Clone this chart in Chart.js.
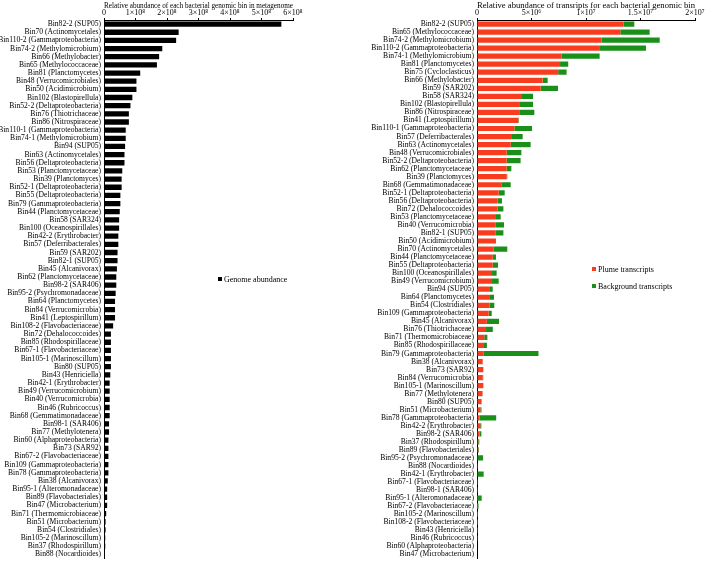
<!DOCTYPE html>
<html>
<head>
<meta charset="utf-8">
<script src="https://cdn.jsdelivr.net/npm/chart.js@4"></script>
<style>
  body { margin: 0; background: #fff; }
  #pagina { position: relative; width: 708px; height: 566px; font-family: "Liberation Serif", "Times New Roman", serif; color: #000; }
  .painel { position: absolute; top: 0; }
  .legenda { position: absolute; font-size: 8px; line-height: 10px; white-space: nowrap; }
  .legenda i { display: inline-block; width: 4px; height: 4px; margin-right: 2px; vertical-align: 1px; }
</style>
</head>
<body>
<div id="pagina">
  <div class="painel" style="left:0;width:350px;height:566px"><canvas id="graficoGenoma" width="350" height="566"></canvas></div>
  <div class="painel" style="left:354px;width:354px;height:566px"><canvas id="graficoTranscritos" width="354" height="566"></canvas></div>
  <div class="legenda" style="left:218px;top:275px"><i style="background:#000"></i>Genome abundance</div>
  <div class="legenda" style="left:592px;top:265px"><i style="background:#fa3c1e"></i>Plume transcripts</div>
  <div class="legenda" style="left:592px;top:282px"><i style="background:#1a8f1a"></i>Background transcripts</div>
</div>
<script>
// painel esquerdo: abundancia no metagenoma (unidade 1e8)
const binsGenoma = [
  "Bin82-2 (SUP05)", "Bin70 (Actinomycetales)", "Bin110-2 (Gammaproteobacteria)", "Bin74-2 (Methylomicrobium)",
  "Bin66 (Methylobacter)", "Bin65 (Methylococcaceae)", "Bin81 (Planctomycetes)", "Bin48 (Verrucomicrobiales)",
  "Bin50 (Acidimicrobium)", "Bin102 (Blastopirellula)", "Bin52-2 (Deltaproteobacteria)", "Bin76 (Thiotrichaceae)",
  "Bin86 (Nitrospiraceae)", "Bin110-1 (Gammaproteobacteria)", "Bin74-1 (Methylomicrobium)", "Bin94 (SUP05)",
  "Bin63 (Actinomycetales)", "Bin56 (Deltaproteobacteria)", "Bin53 (Planctomycetaceae)", "Bin39 (Planctomyces)",
  "Bin52-1 (Deltaproteobacteria)", "Bin55 (Deltaproteobacteria)", "Bin79 (Gammaproteobacteria)", "Bin44 (Planctomycetaceae)",
  "Bin58 (SAR324)", "Bin100 (Oceanospirillales)", "Bin42-2 (Erythrobacter)", "Bin57 (Deferribacterales)",
  "Bin59 (SAR202)", "Bin82-1 (SUP05)", "Bin45 (Alcanivorax)", "Bin62 (Planctomycetaceae)",
  "Bin98-2 (SAR406)", "Bin95-2 (Psychromonadaceae)", "Bin64 (Planctomycetes)", "Bin84 (Verrucomicrobia)",
  "Bin41 (Leptospirillum)", "Bin108-2 (Flavobacteriaceae)", "Bin72 (Dehalococcoides)", "Bin85 (Rhodospirillaceae)",
  "Bin67-1 (Flavobacteriaceae)", "Bin105-1 (Marinoscillum)", "Bin80 (SUP05)", "Bin43 (Henriciella)",
  "Bin42-1 (Erythrobacter)", "Bin49 (Verrucomicrobium)", "Bin40 (Verrucomicrobia)", "Bin46 (Rubricoccus)",
  "Bin68 (Gemmatimonadaceae)", "Bin98-1 (SAR406)", "Bin77 (Methylotenera)", "Bin60 (Alphaproteobacteria)",
  "Bin73 (SAR92)", "Bin67-2 (Flavobacteriaceae)", "Bin109 (Gammaproteobacteria)", "Bin78 (Gammaproteobacteria)",
  "Bin38 (Alcanivorax)", "Bin95-1 (Alteromonadaceae)", "Bin89 (Flavobacteriales)", "Bin47 (Microbacterium)",
  "Bin71 (Thermomicrobiaceae)", "Bin51 (Microbacterium)", "Bin54 (Clostridiales)", "Bin105-2 (Marinoscillum)",
  "Bin37 (Rhodospirillum)", "Bin88 (Nocardioides)"
];
const abundanciaGenoma = [
  5.63, 2.37, 2.29, 1.85, 1.75, 1.68, 1.15, 1.03, 1.03, 0.90,
  0.84, 0.79, 0.79, 0.69, 0.69, 0.67, 0.65, 0.65, 0.58, 0.56,
  0.56, 0.52, 0.52, 0.50, 0.48, 0.48, 0.455, 0.455, 0.43, 0.43,
  0.41, 0.39, 0.39, 0.37, 0.35, 0.35, 0.35, 0.29, 0.22, 0.22,
  0.22, 0.22, 0.22, 0.20, 0.18, 0.18, 0.18, 0.18, 0.18, 0.16,
  0.16, 0.14, 0.14, 0.14, 0.14, 0.14, 0.12, 0.10, 0.10, 0.10,
  0.07, 0.05, 0.05, 0.04, 0.04, 0.02
];
const ticksGenoma = ["0", "1×10⁸", "2×10⁸", "3×10⁸", "4×10⁸", "5×10⁸", "6×10⁸"];

// painel direito: transcritos (unidade 1e6)
const binsTranscritos = [
  "Bin82-2 (SUP05)", "Bin65 (Methylococcaceae)", "Bin74-2 (Methylomicrobium)", "Bin110-2 (Gammaproteobacteria)",
  "Bin74-1 (Methylomicrobium)", "Bin81 (Planctomycetes)", "Bin75 (Cycloclasticus)", "Bin66 (Methylobacter)",
  "Bin59 (SAR202)", "Bin58 (SAR324)", "Bin102 (Blastopirellula)", "Bin86 (Nitrospiraceae)",
  "Bin41 (Leptospirillum)", "Bin110-1 (Gammaproteobacteria)", "Bin57 (Deferribacterales)", "Bin63 (Actinomycetales)",
  "Bin48 (Verrucomicrobiales)", "Bin52-2 (Deltaproteobacteria)", "Bin62 (Planctomycetaceae)", "Bin39 (Planctomyces)",
  "Bin68 (Gemmatimonadaceae)", "Bin52-1 (Deltaproteobacteria)", "Bin56 (Deltaproteobacteria)", "Bin72 (Dehalococcoides)",
  "Bin53 (Planctomycetaceae)", "Bin40 (Verrucomicrobia)", "Bin82-1 (SUP05)", "Bin50 (Acidimicrobium)",
  "Bin70 (Actinomycetales)", "Bin44 (Planctomycetaceae)", "Bin55 (Deltaproteobacteria)", "Bin100 (Oceanospirillales)",
  "Bin49 (Verrucomicrobium)", "Bin94 (SUP05)", "Bin64 (Planctomycetes)", "Bin54 (Clostridiales)",
  "Bin109 (Gammaproteobacteria)", "Bin45 (Alcanivorax)", "Bin76 (Thiotrichaceae)", "Bin71 (Thermomicrobiaceae)",
  "Bin85 (Rhodospirillaceae)", "Bin79 (Gammaproteobacteria)", "Bin38 (Alcanivorax)", "Bin73 (SAR92)",
  "Bin84 (Verrucomicrobia)", "Bin105-1 (Marinoscillum)", "Bin77 (Methylotenera)", "Bin80 (SUP05)",
  "Bin51 (Microbacterium)", "Bin78 (Gammaproteobacteria)", "Bin42-2 (Erythrobacter)", "Bin98-2 (SAR406)",
  "Bin37 (Rhodospirillum)", "Bin89 (Flavobacteriales)", "Bin95-2 (Psychromonadaceae)", "Bin88 (Nocardioides)",
  "Bin42-1 (Erythrobacter)", "Bin67-1 (Flavobacteriaceae)", "Bin98-1 (SAR406)", "Bin95-1 (Alteromonadaceae)",
  "Bin67-2 (Flavobacteriaceae)", "Bin105-2 (Marinoscillum)", "Bin108-2 (Flavobacteriaceae)", "Bin43 (Henriciella)",
  "Bin46 (Rubricoccus)", "Bin60 (Alphaproteobacteria)", "Bin47 (Microbacterium)"
];
const transcritosPluma = [
  13.46, 13.15, 11.41, 11.28, 7.74, 7.62, 7.45, 6.02, 5.84, 4.13,
  3.94, 3.94, 3.79, 3.43, 3.21, 3.09, 2.72, 2.72, 2.72, 2.72,
  2.23, 1.99, 1.87, 1.87, 1.74, 1.68, 1.68, 1.74, 1.50, 1.44,
  1.44, 1.38, 1.38, 1.19, 1.19, 1.15, 1.07, 0.90, 0.83, 0.67,
  0.64, 0.62, 0.52, 0.55, 0.53, 0.55, 0.50, 0.37, 0.31, 0.24,
  0.30, 0.22, 0.12, 0.12, 0.06, 0.06, 0.06, 0.06, 0.06, 0.03,
  0.01, 0.01, 0.01, 0.005, 0, 0, 0
];
const transcritosFundo = [
  0.97, 2.69, 5.35, 4.22, 3.51, 0.75, 0.77, 0.46, 1.59, 1.01,
  1.20, 1.32, 0.05, 1.62, 0.98, 1.83, 1.35, 1.28, 0.43, 0.06,
  0.86, 0.55, 0.42, 0.55, 0.43, 0.80, 0.74, 0, 1.28, 0.30,
  0.49, 0.42, 0.61, 0.25, 0.37, 0.44, 0.28, 1.12, 0.62, 0.28,
  0.27, 5.02, 0, 0.03, 0.04, 0.03, 0.02, 0.05, 0.10, 1.52,
  0.10, 0.18, 0.09, 0.06, 0.50, 0.03, 0.55, 0.03, 0.03, 0.40,
  0.13, 0.05, 0.04, 0.005, 0.005, 0, 0
];
const ticksTranscritos = ["0", "5×10⁶", "1×10⁷", "1.5×10⁷", "2×10⁷"];

Chart.defaults.font.family = '"Liberation Serif", "Times New Roman", serif';
Chart.defaults.color = "#000";

function eixoX(titulo, maximo, passo, rotulos) {
  return {
    position: "top",
    min: 0,
    max: maximo,
    stacked: true,
    afterFit: escala => { escala.height = 20; },
    title: { display: true, text: titulo, font: { size: 8.7 }, padding: { top: 0, bottom: 0 } },
    ticks: {
      stepSize: passo,
      font: { size: 8 },
      padding: 0,
      maxRotation: 0,
      callback: (valor, indice) => rotulos[indice]
    },
    grid: { display: true, drawOnChartArea: false, tickLength: 2, color: "#000" },
    border: { display: true, color: "#000", width: 1 }
  };
}

function eixoY(largura) {
  return {
    stacked: true,
    afterFit: escala => { escala.width = largura; },
    ticks: { font: { size: 7.6 }, padding: 3, autoSkip: false },
    grid: { display: false, drawTicks: false },
    border: { display: true, color: "#000", width: 1 }
  };
}

function opcoesBase(padding) {
  return {
    indexAxis: "y",
    responsive: false,
    animation: false,
    layout: { padding },
    plugins: { legend: { display: false }, tooltip: { enabled: false } }
  };
}

new Chart(document.getElementById("graficoGenoma"), {
  type: "bar",
  data: {
    labels: binsGenoma,
    datasets: [{
      label: "Genome abundance",
      data: abundanciaGenoma,
      backgroundColor: "#000",
      categoryPercentage: 1,
      barPercentage: 0.65
    }]
  },
  options: {
    ...opcoesBase({ top: 0, right: 57, bottom: 0, left: 0 }),
    scales: {
      x: eixoX("Relative abundance of each bacterial genomic bin in metagenome", 6, 1, ticksGenoma),
      y: eixoY(104)
    }
  }
});

new Chart(document.getElementById("graficoTranscritos"), {
  type: "bar",
  data: {
    labels: binsTranscritos,
    datasets: [{
      label: "Plume transcripts",
      data: transcritosPluma,
      backgroundColor: "#fa3c1e",
      categoryPercentage: 1,
      barPercentage: 0.65
    }, {
      label: "Background transcripts",
      data: transcritosFundo,
      backgroundColor: "#1a8f1a",
      categoryPercentage: 1,
      barPercentage: 0.65
    }]
  },
  options: {
    ...opcoesBase({ top: 0, right: 13, bottom: 0, left: 0 }),
    scales: {
      x: eixoX("Relative abundance of transripts for each bacterial genomic bin", 20, 5, ticksTranscritos),
      y: eixoY(123)
    }
  }
});
</script>
</body>
</html>
